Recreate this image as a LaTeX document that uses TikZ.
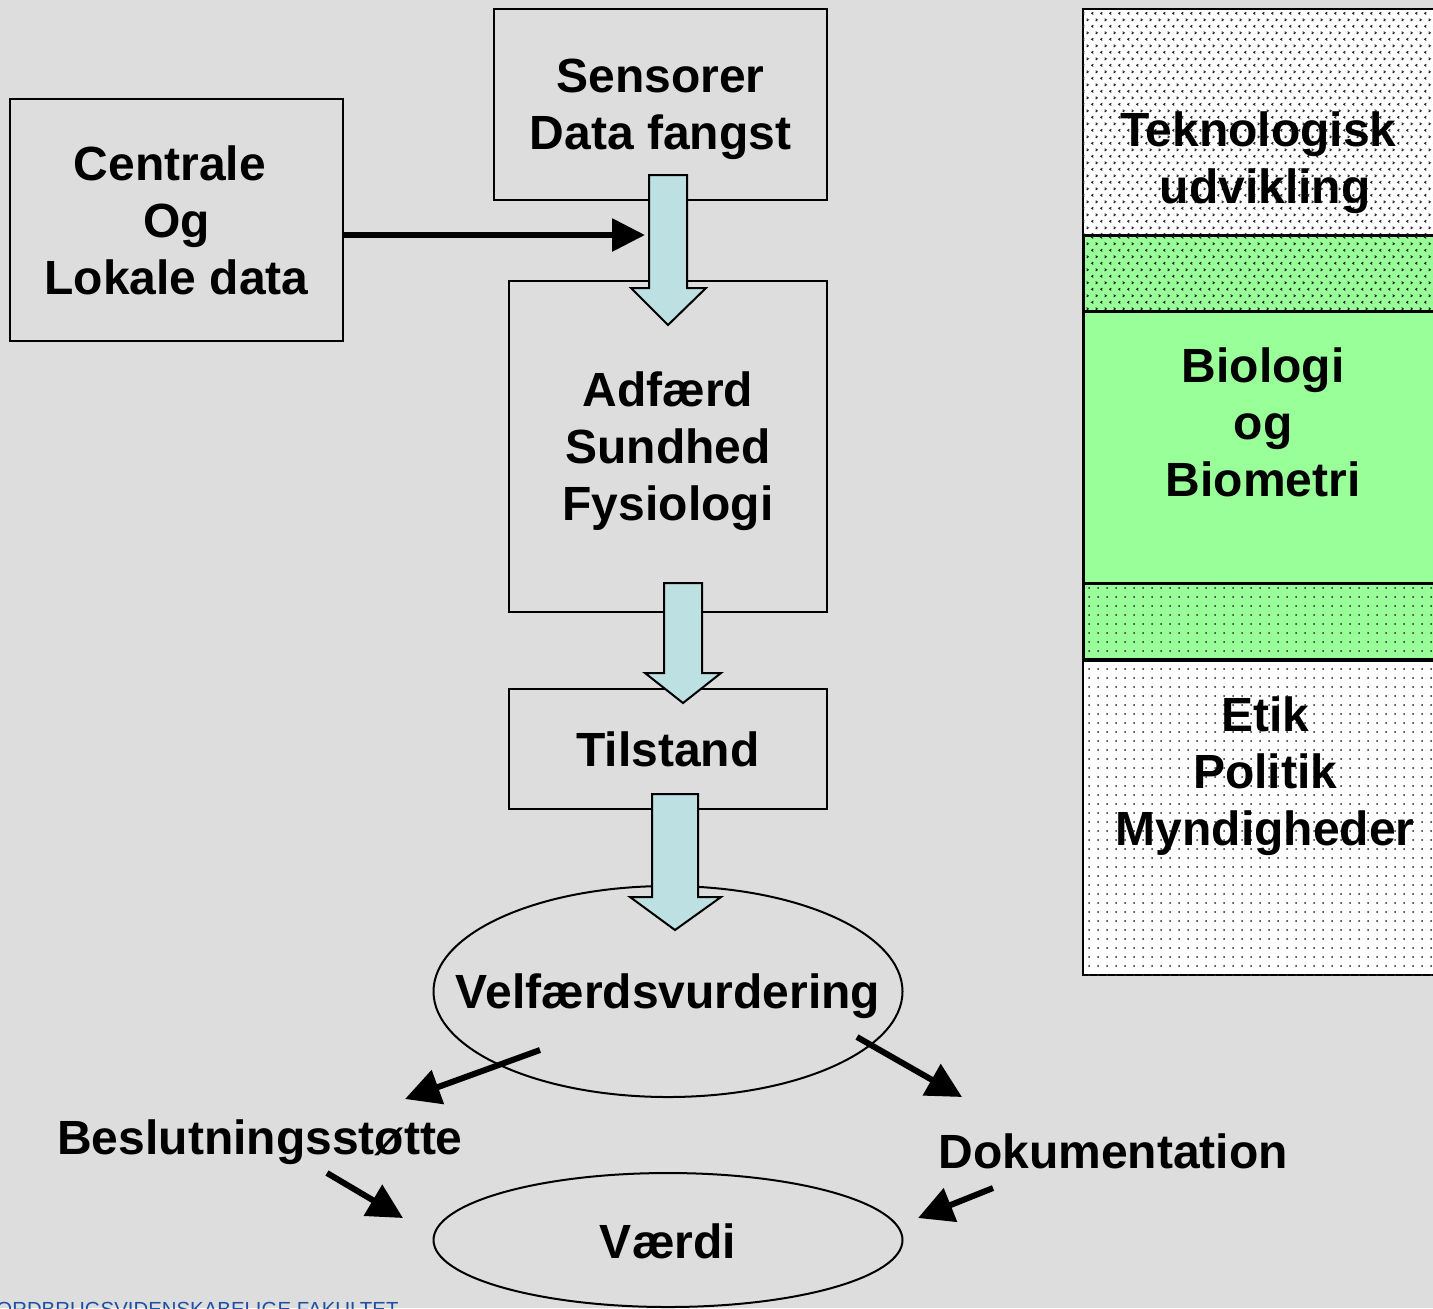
\documentclass[tikz,border=0pt]{standalone}
\usepackage{fontspec}
\setmainfont{Liberation Sans}
\usetikzlibrary{shapes.geometric,arrows.meta,patterns,patterns.meta}

\definecolor{bg}{RGB}{221,221,221}
\definecolor{arrowfill}{RGB}{189,224,227}
\definecolor{lgreen}{RGB}{153,255,153}
\definecolor{kvlblue}{RGB}{30,80,160}

\tikzdeclarepattern{
  name=chevrons,
  type=uncolored,
  bounding box={(0pt,0pt) and (4.7pt,6.7pt)},
  tile size={(4.7pt,6.7pt)},
  code={
    \draw[line width=0.5pt] (1.75pt,0.3pt) -- (0.85pt,0.9pt) -- (1.75pt,1.5pt);
    \draw[line width=0.5pt] (3.0pt,3.65pt) -- (3.9pt,4.25pt) -- (3.0pt,4.85pt);
  }
}

\newcommand\blkarrow[8]{%
  \draw[blk] (#1,#3) -- (#2,#3) -- (#2,#4) -- (#6,#4) -- (#7,#8) -- (#5,#4) -- (#1,#4) -- cycle;}
\newcommand\tsp{\hspace*{0.278em}}

\begin{document}
\begin{tikzpicture}[x=0.5pt,y=-0.5pt,
  box/.style={draw=black, line width=1pt, rectangle, inner sep=0pt},
  lbl/.style={font=\bfseries\fontsize{24}{28.5}\selectfont, align=center, inner sep=0pt},
  blk/.style={draw=black, line width=1pt, fill=arrowfill, line join=miter},
  thinarr/.style={line width=3pt, -{Triangle[length=17.5pt,width=17.5pt]}},
  ell/.style={draw=black, line width=1pt, shape=ellipse, inner sep=0pt}
]
\useasboundingbox (0,0) rectangle (1433,1308);
\fill[bg] (0,0) rectangle (1433,1308);

% ---------- right column ----------
\draw[line width=1pt, fill=white] (1083,9) rectangle (1445,235);
\fill[pattern=chevrons, pattern color=black!85] (1083,9) rectangle (1445,235);
\draw[line width=1pt, fill=white] (1083,661) rectangle (1445,975);
\fill[pattern={Dots[radius=0.5pt,distance=4.5pt]}, pattern color=black!85] (1083,661) rectangle (1445,975);
\draw[line width=1.5pt, fill=lgreen] (1083,235) rectangle (1445,659);
\fill[pattern=chevrons, pattern color=black!85] (1084,236) rectangle (1445,310);
\fill[pattern={Dots[radius=0.5pt,distance=4.5pt]}, pattern color=black!85] (1084,584) rectangle (1445,658);
\draw[line width=1.5pt, fill=lgreen] (1083,311) rectangle (1445,583);

\node[lbl] (tek) at (1265,163) {Teknologisk\tsp\\udvikling};
\node[lbl] (bio) at (1263,422) {Biologi\\og\\Biometri};
\node[lbl] (etik) at (1265,776) {Etik\\Politik\\Myndigheder};

% ---------- boxes ----------
\node[box, minimum width=166.5pt, minimum height=121pt] (cen) at (176.5,220) {};
\node[lbl] (cent) at (cen.center) {Centrale\tsp\\Og\tsp\\Lokale data};
\node[box, minimum width=166.5pt, minimum height=95.5pt] (sen) at (660.5,104.5) {};
\node[lbl] (sent) at ([yshift=-2.5pt]sen.center) {Sensorer\\Data fangst};
\node[box, minimum width=159pt, minimum height=165.5pt] (adf) at (668,446.5) {};
\node[lbl] (adft) at ([yshift=-2.5pt]adf.center) {Adfærd\\Sundhed\\Fysiologi};
\node[box, minimum width=159pt, minimum height=60pt] (til) at (668,749) {};
\node[lbl] (tilt) at (til.center) {Tilstand};

% ---------- ellipses ----------
\node[ell, minimum width=234.5pt, minimum height=105.5pt] (vel) at (668,991.5) {};
\node[lbl] (velt) at ([yshift=-2.5pt]vel.center) {Velfærdsvurdering};
\node[ell, minimum width=234.5pt, minimum height=67pt] (vaer) at (668,1240) {};
\node[lbl] (vaert) at ([yshift=-0.5pt]vaer.center) {Værdi};

% ---------- block arrows ----------
\blkarrow{649}{687}{175}{288}{631}{706}{668}{325}
\blkarrow{664}{702}{583}{673}{645}{721}{683}{703}
\blkarrow{652}{698}{794}{897}{630}{721}{675}{930}

% ---------- black arrow from Centrale ----------
\coordinate (ctip) at (645,235);
\draw[line width=3pt, -{Triangle[length=16.5pt,width=16pt]}] (cen.east |- ctip) -- (ctip);

% ---------- outputs ----------
\node[lbl, anchor=base] (bes) at (260,1154) {Beslutningsstøtte};
\node[lbl, anchor=base] (dok) at (1113,1168) {Dokumentation};

\coordinate (a1s) at (540,1050);
\coordinate (a1e) at (405,1099);
\coordinate (a2s) at (857,1037);
\coordinate (a2e) at (962,1097);
\coordinate (a3s) at (327,1173);
\coordinate (a3e) at (403,1218);
\coordinate (a4s) at (993,1188);
\coordinate (a4e) at (918,1218);
\draw[thinarr] (a1s) -- (a1e);
\draw[thinarr] (a2s) -- (a2e);
\draw[thinarr] (a3s) -- (a3e);
\draw[thinarr] (a4s) -- (a4e);

% ---------- footer (cut off at the lower edge, as in the reference) ----------
\node[anchor=base west, inner sep=0pt, text=kvlblue, font=\fontsize{10.2}{12}\selectfont] (foot) at (-4,1316.5) {ORDBRUGSVIDENSKABELIGE FAKULTET};
\end{tikzpicture}
\end{document}
